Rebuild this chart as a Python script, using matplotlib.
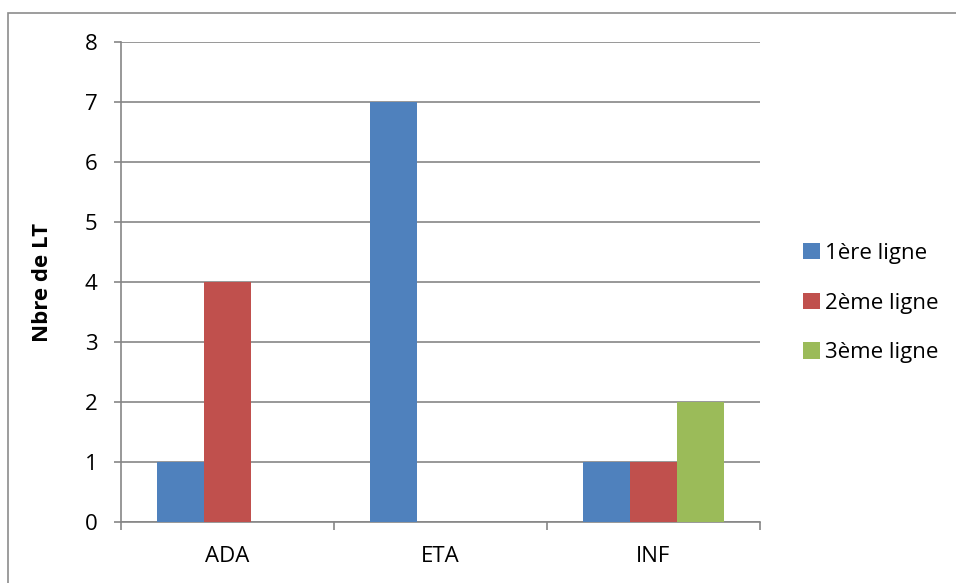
import matplotlib.pyplot as plt
import numpy as np
from matplotlib.patches import Rectangle

plt.rcParams['font.family'] = ['Open Sans', 'DejaVu Sans']

categories = ['ADA', 'ETA', 'INF']
series_names = ['1ère ligne', '2ème ligne', '3ème ligne']
premiere = [1, 7, 1]
deuxieme = [4, 0, 1]
troisieme = [0, 0, 2]
colors = ['#4F81BD', '#C0504D', '#9BBB59']

fig = plt.figure(figsize=(9.56, 5.83), dpi=100)
ax = fig.add_axes([121 / 956, 61 / 583, 639 / 956, 480 / 583])

# outer chart frame
fig.patches.append(Rectangle((8 / 956, -0.05), 1.2, (583 - 13) / 583 + 0.05,
                             transform=fig.transFigure, fill=False,
                             edgecolor='#8c8c8c', linewidth=1.2))

x = np.arange(len(categories))
width = 0.22
for i, (vals, name) in enumerate(zip([premiere, deuxieme, troisieme], series_names)):
    ax.bar(x + (i - 1) * width, vals, width, color=colors[i], label=name,
           edgecolor='none', zorder=3)

ax.set_xlim(-0.5, 2.5)
ax.set_ylim(0, 8)
ax.set_yticks(range(0, 9))
ax.grid(axis='y', color='#868686', linewidth=1.2, zorder=0)
ax.set_axisbelow(True)

# category boundaries as ticks, names centred between them
ax.set_xticks([-0.5, 0.5, 1.5, 2.5])
ax.set_xticklabels([])
ax.set_xticks(x, minor=True)
ax.set_xticklabels(categories, minor=True)
ax.tick_params(axis='x', which='major', length=6, width=1.2, color='#868686', direction='out')
ax.tick_params(axis='x', which='minor', length=0, pad=17, labelsize=16)
ax.tick_params(axis='y', length=5, width=1.2, color='#868686', pad=12, labelsize=16)

for side in ['top', 'right']:
    ax.spines[side].set_visible(False)
for side in ['left', 'bottom']:
    ax.spines[side].set_color('#868686')
    ax.spines[side].set_linewidth(1.2)

fig.text(42 / 956, 1 - 282 / 583, 'Nbre de LT', rotation=90, fontsize=16,
         fontweight='bold', ha='center', va='center')

ax.legend(loc='center left', bbox_to_anchor=(792 / 956, 1 - 303 / 583),
          bbox_transform=fig.transFigure, frameon=False, fontsize=16,
          handlelength=0.75, handleheight=0.75, handletextpad=0.25,
          labelspacing=1.3, borderpad=0)

fig.savefig('out.png', dpi=100)
